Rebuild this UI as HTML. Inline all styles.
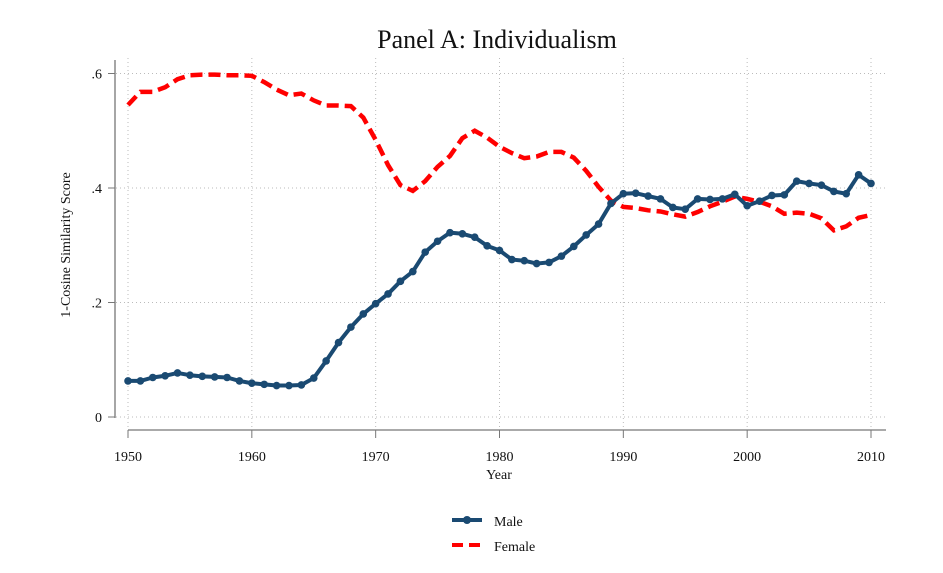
<!DOCTYPE html>
<html><head><meta charset="utf-8"><style>
body{margin:0;background:#fff;}
svg text{font-family:"Liberation Serif",serif;fill:#111;}
</style></head><body>
<svg width="943" height="568" viewBox="0 0 943 568">
<text x="497" y="48" font-size="26" text-anchor="middle">Panel A: Individualism</text>
<g id="grid"></g>
<g id="axes"></g>
<g id="series"></g>
<text transform="translate(70,245) rotate(-90)" font-size="14" text-anchor="middle">1-Cosine Similarity Score</text>
<text x="499" y="479" font-size="14" text-anchor="middle">Year</text>
<g>
<g>
<line x1="452" y1="520" x2="482" y2="520" stroke="#1a4a72" stroke-width="4"/>
<circle cx="467" cy="520" r="4" fill="#1a4a72"/>
<text x="494" y="526" font-size="14">Male</text></g>
<g>
<line x1="452" y1="545" x2="482" y2="545" stroke="#f00" stroke-width="4" stroke-dasharray="11,6"/>
<text x="494" y="551" font-size="14">Female</text></g>
</g>
</svg>
<script>
const years=[];for(let y=1950;y<=2010;y++)years.push(y);
const male=[.063,.063,.069,.072,.077,.073,.071,.070,.069,.063,.059,.057,.055,.055,.056,.068,.098,.130,.157,.180,.198,.215,.237,.254,.288,.307,.322,.320,.314,.299,.291,.275,.273,.268,.270,.281,.298,.318,.337,.373,.390,.391,.386,.381,.366,.363,.381,.380,.381,.389,.369,.377,.387,.388,.412,.408,.405,.394,.390,.423,.408];
const female=[.545,.568,.568,.576,.590,.597,.598,.598,.597,.597,.596,.585,.572,.562,.565,.553,.544,.544,.543,.523,.484,.440,.405,.395,.412,.437,.456,.487,.500,.488,.472,.461,.452,.455,.463,.463,.453,.430,.402,.378,.367,.365,.361,.359,.354,.350,.358,.368,.376,.385,.381,.376,.368,.355,.357,.355,.347,.326,.333,.348,.353];
const xTicks=[1950,1960,1970,1980,1990,2000,2010];
const yTicks=[0,.2,.4,.6];
const yLabels=["0",".2",".4",".6"];
const NS="http://www.w3.org/2000/svg";
const X=v=>128+(v-1950)*(871-128)/60;
const Y=v=>417-v*572.5;
function mk(tag,attrs,parent){const e=document.createElementNS(NS,tag);for(const k in attrs)e.setAttribute(k,attrs[k]);document.getElementById(parent).appendChild(e);return e;}
yTicks.forEach((t,i)=>{
 const g=mk('line',{x1:116,x2:885,y1:Y(t),y2:Y(t),stroke:'#bbb','stroke-dasharray':'1,3'},'grid');
 
 
 const tk=mk('line',{x1:108,x2:115,y1:Y(t),y2:Y(t),stroke:'#777'},'axes');
 
 
 const tx=mk('text',{x:102,y:Y(t)+5,'font-size':14,'text-anchor':'end'},'axes');tx.textContent=yLabels[i];
 
 
});
xTicks.forEach(t=>{
 const g=mk('line',{x1:X(t),x2:X(t),y1:58,y2:428,stroke:'#bbb','stroke-dasharray':'1,3'},'grid');
 
 
 const tk=mk('line',{x1:X(t),x2:X(t),y1:430,y2:438,stroke:'#777'},'axes');
 
 
 const tx=mk('text',{x:X(t),y:461,'font-size':14,'text-anchor':'middle'},'axes');tx.textContent=t;
 
 
});
const ya=mk('line',{x1:115,x2:115,y1:60,y2:418,stroke:'#777','stroke-width':1.3},'axes');


const xa=mk('line',{x1:128,x2:886,y1:430,y2:430,stroke:'#777','stroke-width':1.3},'axes');


const fl=mk('polyline',{points:years.map((y,i)=>X(y)+','+Y(female[i])).join(' '),fill:'none',stroke:'#f00','stroke-width':4.5,'stroke-dasharray':'12,6'},'series');


const ml=mk('polyline',{points:years.map((y,i)=>X(y)+','+Y(male[i])).join(' '),fill:'none',stroke:'#1a4a72','stroke-width':4,'stroke-linejoin':'round'},'series');


years.forEach((y,i)=>{
 const c=mk('circle',{cx:X(y),cy:Y(male[i]),r:3.8,fill:'#1a4a72'},'series');
 
 
});
</script>
</body></html>
